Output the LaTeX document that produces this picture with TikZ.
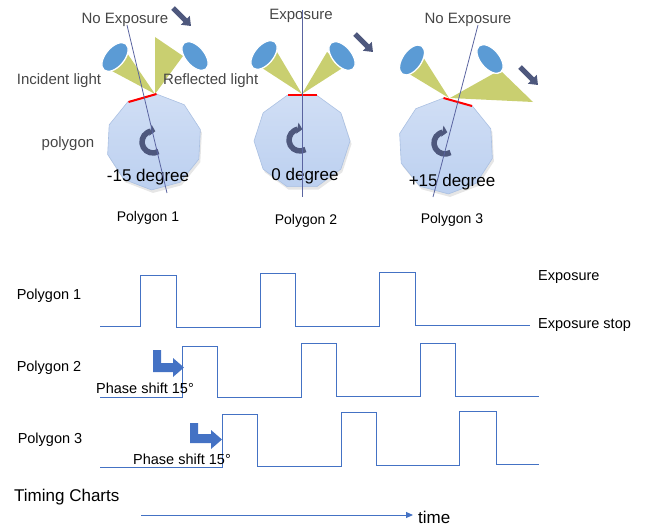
\documentclass[tikz,border=0pt]{standalone}
\usepackage{fontspec}
\setmainfont{Liberation Sans}
\usetikzlibrary{arrows.meta,calc,shadows}

\definecolor{wave}{RGB}{68,114,196}
\definecolor{conecol}{RGB}{201,207,112}
\definecolor{lamp}{RGB}{91,155,213}
\definecolor{polyfill}{RGB}{188,208,240}
\definecolor{polyedge}{RGB}{170,192,226}
\definecolor{normalline}{RGB}{90,100,160}
\definecolor{darkarrow}{RGB}{78,88,125}
\definecolor{labelgray}{RGB}{70,70,70}

% regular decagon: centre x, centre y, angle of first corner
\newcommand\mirrorpoly[3]{%
  \path[mirror] ($(#1,#2)+(#3:48)$)
    \foreach \k in {1,...,9}{ -- ($(#1,#2)+({#3+36*\k}:48)$) } -- cycle;
  \coordinate (#1-#2) at (#1,#2);}

\begin{document}
\begin{tikzpicture}[x=1pt,y=-1pt,
  toplbl/.style={font=\fontsize{15}{17}\selectfont, text=labelgray, inner sep=0},
  deglbl/.style={font=\fontsize{17}{19}\selectfont, inner sep=0},
  namelbl/.style={font=\fontsize{14}{16}\selectfont, inner sep=0},
  chartlbl/.style={font=\fontsize{14.5}{16}\selectfont, inner sep=0},
  mirror/.style={top color=polyfill!70!white, bottom color=polyfill,
    draw=polyedge, line width=0.6pt,
    drop shadow={shadow xshift=1.5pt, shadow yshift=-3pt, opacity=0.2}},
  beam/.style={fill=conecol},
  lampbody/.style={fill=lamp, draw=white, line width=1.3pt},
  facet/.style={draw=red, line width=2pt},
  normal/.style={draw=normalline, line width=0.8pt},
  spin/.style={draw=darkarrow, line width=5.5pt, -{Triangle[length=5pt,width=11pt]}},
  motion/.style={draw=darkarrow, line width=5pt, -{Triangle[length=8pt,width=12pt]}},
  signal/.style={draw=wave, line width=0.9pt, line join=miter},
  phasearrow/.style={fill=wave}
]
\useasboundingbox (0,0) rectangle (647,527);

% ---------- rotating polygons ----------
\mirrorpoly{154}{142}{-87}
\mirrorpoly{302}{141}{-72}
\mirrorpoly{446}{146}{-57}

% ---------- light cones and lamps ----------
% polygon 1
\fill[beam] (155,94) -- (110,70) -- (127,53) -- cycle;
\fill[beam] (155,94) -- (155,37) -- (183,56) -- cycle;
\draw[lampbody, rotate around={50:(115,57)}] (115,57) ellipse[x radius=17, y radius=9.5];
\draw[lampbody, rotate around={-50:(195,56)}] (195,56) ellipse[x radius=17, y radius=9.5];
% polygon 2
\fill[beam] (302,94) -- (259,66) -- (277,52) -- cycle;
\fill[beam] (302,94) -- (327,52) -- (344,67) -- cycle;
\draw[lampbody, rotate around={50:(264,55)}] (264,55) ellipse[x radius=17, y radius=9.5];
\draw[lampbody, rotate around={-50:(342,56)}] (342,56) ellipse[x radius=17, y radius=9.5];
% polygon 3
\fill[beam] (449,98) -- (406,72) -- (423,57) -- cycle;
\fill[beam] (450,98) -- (500,70) -- (533,102) -- cycle;
\draw[lampbody, rotate around={55:(412,60)}] (412,60) ellipse[x radius=17, y radius=9.5];
\draw[lampbody, rotate around={-50:(490,59)}] (490,59) ellipse[x radius=17, y radius=9.5];

% ---------- reflecting facets ----------
\draw[facet] (128.5,102) -- (156.5,94);
\draw[facet] (287.5,95.4) -- (316.5,95.4);
\draw[facet] (443.5,98) -- (472,106);

% ---------- rotation arrows ----------
\draw[spin] (153,142) ++(60:11) arc[start angle=60, end angle=282, radius=11];
\draw[spin] (300,140) ++(60:11) arc[start angle=60, end angle=282, radius=11];
\draw[spin] (445,143) ++(60:11) arc[start angle=60, end angle=282, radius=11];

% ---------- movement arrows ----------
\coordinate (m1a) at (173,8);  \coordinate (m1b) at (191,26);
\coordinate (m2a) at (355,34); \coordinate (m2b) at (373,52);
\coordinate (m3a) at (520,67); \coordinate (m3b) at (538,85);
\draw[motion] (m1a) -- (m1b);
\draw[motion] (m2a) -- (m2b);
\draw[motion] (m3a) -- (m3b);

% ---------- labels, upper part ----------
\node[toplbl] (ne1) at (125,20) {No Exposure};
\node[toplbl] (ex2) at (301,16) {Exposure};
\node[toplbl] (ne3) at (468,20) {No Exposure};
\node[toplbl] (inc) at (59,81) {Incident light};
\node[toplbl, anchor=west] (ref) at (163,81) {Reflected light};
\node[toplbl] (pol) at (68,144) {polygon};
\node[deglbl] (d1) at (148,177) {-15 degree};
\node[deglbl] (d2) at (305,176) {0 degree};
\node[deglbl] (d3) at (452,182) {+15 degree};
\node[namelbl] (n1) at (148,218) {Polygon 1};
\node[namelbl] (n2) at (306,221) {Polygon 2};
\node[namelbl] (n3) at (452,220) {Polygon 3};

% ---------- surface normals ----------
\draw[normal] (127,25) -- (167,193);
\draw[normal] (302,10) -- (302,197);
\draw[normal] (478,25) -- (433,197);

% ---------- timing charts ----------
\node[chartlbl] (c1) at (49,296) {Polygon 1};
\node[chartlbl] (c2) at (49,368) {Polygon 2};
\node[chartlbl] (c3) at (50,440) {Polygon 3};
\node[chartlbl, anchor=west] (hi) at (538,277) {Exposure};
\node[chartlbl, anchor=west] (lo) at (538,325) {Exposure stop};

\draw[signal] (100,326) -- (140,326) -- (140,275) -- (176,275) -- (176,327)
  -- (260,327) -- (260,273) -- (295,273) -- (295,326) -- (379,326)
  -- (379,272) -- (415,272) -- (415,325) -- (530,325);
\draw[signal] (100,397) -- (182,397) -- (182,346) -- (217,346) -- (217,397)
  -- (301,397) -- (301,343) -- (336,343) -- (336,396) -- (420,396)
  -- (420,343) -- (455,343) -- (455,396) -- (539,396);
\draw[signal] (100,467) -- (222,467) -- (222,414) -- (257,414) -- (257,466)
  -- (341,466) -- (341,412) -- (376,412) -- (376,465) -- (459,465)
  -- (459,411) -- (496,411) -- (496,464) -- (539,464);

% phase-shift arrows
\fill[phasearrow] (153,350) -- (161,350) -- (161,363) -- (173,363) -- (173,358)
  -- (184,367.5) -- (173,377) -- (173,372) -- (153,372) -- cycle;
\fill[phasearrow] (190,423) -- (198,423) -- (198,434) -- (211,434) -- (211,430)
  -- (222,439.5) -- (211,449) -- (211,443) -- (190,443) -- cycle;
\node[chartlbl] (s2) at (145,388) {Phase shift 15°};
\node[chartlbl] (s3) at (182,459) {Phase shift 15°};

% time axis
\node[font=\fontsize{17}{19}\selectfont, inner sep=0, anchor=west] (tc) at (14,497) {Timing Charts};
\node[font=\fontsize{17}{19}\selectfont, inner sep=0, anchor=west] (time) at (418,517) {time};
\coordinate (t0) at (141,515);
\coordinate (t1) at (413,515);
\draw[wave, line width=1pt, -{Triangle[length=7pt,width=6pt]}] (t0) -- (t1);
\end{tikzpicture}
\end{document}
